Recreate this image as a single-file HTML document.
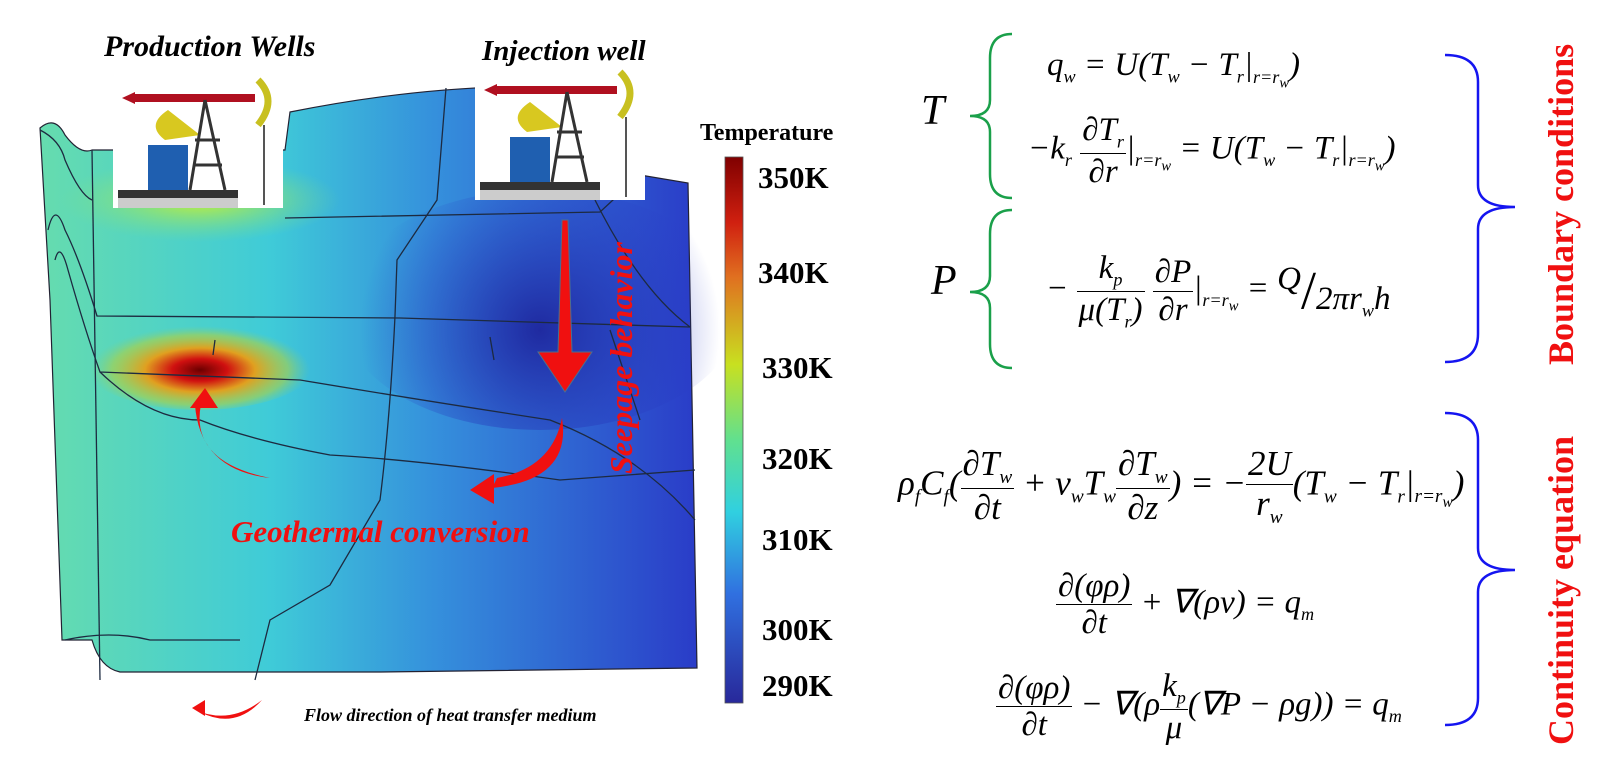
<!DOCTYPE html>
<html><head><meta charset="utf-8"><style>
body{margin:0;width:1599px;height:768px;background:#fff;position:relative;overflow:hidden;font-family:"Liberation Serif",serif}
.a{position:absolute;white-space:nowrap}
.eq{font-family:"Liberation Serif",serif;font-style:italic;font-size:33px;color:#000;line-height:1.1}
.eq sub{font-size:0.55em}
.eq sub sub{font-size:0.8em}
.lab{font-family:"Liberation Serif",serif;font-weight:bold;font-size:31px}
.frac{display:inline-block;vertical-align:middle;text-align:center}
.frac span{display:block;padding:0 2px}
.frac span.t{border-bottom:1.5px solid #000}
</style></head><body>
<svg width="1599" height="768" style="position:absolute;left:0;top:0">
<defs>
<linearGradient id="g1" x1="0" x2="1" y1="0" y2="0">
<stop offset="0" stop-color="#66dcae"/><stop offset="0.35" stop-color="#3fcbd8"/><stop offset="0.6" stop-color="#3590dc"/><stop offset="1" stop-color="#2a3cc8"/></linearGradient>
<radialGradient id="hot" cx="200" cy="370" r="110" gradientUnits="userSpaceOnUse" gradientTransform="translate(200 370) scale(1 0.4) translate(-200 -370)">
<stop offset="0" stop-color="#6b0000"/><stop offset="0.25" stop-color="#d01010"/><stop offset="0.5" stop-color="#e0a020"/><stop offset="0.8" stop-color="#b0d040" stop-opacity="0.6"/><stop offset="1" stop-color="#80d080" stop-opacity="0"/></radialGradient>
<radialGradient id="yel" cx="200" cy="200" r="140" gradientUnits="userSpaceOnUse" gradientTransform="translate(200 200) scale(1 0.3) translate(-200 -200)">
<stop offset="0" stop-color="#c8f030"/><stop offset="1" stop-color="#80e080" stop-opacity="0"/></radialGradient>
<radialGradient id="dk" cx="540" cy="330" r="180" gradientUnits="userSpaceOnUse">
<stop offset="0" stop-color="#1f2aa0"/><stop offset="1" stop-color="#2a3cc8" stop-opacity="0"/></radialGradient>
<linearGradient id="cb" x1="0" x2="0" y1="0" y2="1">
<stop offset="0" stop-color="#800000"/><stop offset="0.12" stop-color="#d02010"/><stop offset="0.22" stop-color="#e07020"/><stop offset="0.38" stop-color="#c8e020"/><stop offset="0.52" stop-color="#60e090"/><stop offset="0.65" stop-color="#30d0e0"/><stop offset="0.8" stop-color="#3070e0"/><stop offset="1" stop-color="#28289a"/></linearGradient>
</defs>
<path d="M40,128 Q55,115 65,135 Q80,155 92,150 L285,150 L290,112 Q450,80 590,88 L640,88 L640,175 L688,183 L697,668 L380,672 L120,672 Q100,668 92,640 L62,640 L50,300 Z" fill="url(#g1)" stroke="#223" stroke-width="1.2"/>
<ellipse cx="540" cy="310" rx="200" ry="120" fill="url(#dk)"/>
<ellipse cx="200" cy="200" rx="150" ry="50" fill="url(#yel)"/>
<ellipse cx="200" cy="360" rx="120" ry="50" fill="url(#hot)"/>
<g fill="none" stroke="#1d2a40" stroke-width="1.3">
<path d="M92,150 L100,680"/>
<path d="M40,130 Q60,140 65,160 Q80,195 92,200"/>
<path d="M48,230 Q55,200 65,230 Q80,260 97,316 L400,318 L690,327"/>
<path d="M55,260 Q60,240 68,270 Q85,330 100,372 L300,380 Q420,400 550,420 Q640,455 695,520"/>
<path d="M100,372 Q150,420 200,420 Q250,440 330,455 Q420,460 560,480 L695,470"/>
<path d="M395,316 Q390,420 380,500 L330,585 L270,620 L255,680"/>
<path d="M446,88 L437,200 L397,260 L395,316"/>
<path d="M285,218 L600,212 L640,175"/>
<path d="M595,200 Q640,290 690,327"/>
<path d="M65,640 Q110,630 150,640 L240,640"/>
<path d="M610,330 L640,420"/>
<path d="M215,340 L213,355 M490,337 L494,360"/>
</g>
<g>
<rect x="113" y="78" width="170" height="130" fill="#fff"/>
<rect x="135" y="94" width="120" height="8" fill="#b01020"/>
<polygon points="122,98 135,92 135,104" fill="#b01020"/>
<path d="M168,110 Q145,125 165,140 L200,135 Z" fill="#d8c820"/>
<rect x="148" y="145" width="40" height="45" fill="#1f5fb0"/>
<path d="M205,100 L190,190 M205,100 L225,190 M195,140 L220,140 M193,165 L222,165" stroke="#333" stroke-width="3"/>
<path d="M258,80 Q278,100 258,125" stroke="#c8c020" stroke-width="7" fill="none"/>
<line x1="264" y1="125" x2="264" y2="205" stroke="#555" stroke-width="2"/>
<rect x="118" y="190" width="120" height="8" fill="#333"/><rect x="118" y="198" width="120" height="10" fill="#ccc"/>
</g>
<g transform="translate(362,-8)">
<rect x="113" y="78" width="170" height="130" fill="#fff"/>
<rect x="135" y="94" width="120" height="8" fill="#b01020"/>
<polygon points="122,98 135,92 135,104" fill="#b01020"/>
<path d="M168,110 Q145,125 165,140 L200,135 Z" fill="#d8c820"/>
<rect x="148" y="145" width="40" height="45" fill="#1f5fb0"/>
<path d="M205,100 L190,190 M205,100 L225,190 M195,140 L220,140 M193,165 L222,165" stroke="#333" stroke-width="3"/>
<path d="M258,80 Q278,100 258,125" stroke="#c8c020" stroke-width="7" fill="none"/>
<line x1="264" y1="125" x2="264" y2="205" stroke="#555" stroke-width="2"/>
<rect x="118" y="190" width="120" height="8" fill="#333"/><rect x="118" y="198" width="120" height="10" fill="#ccc"/>
</g>
<polygon points="562,220 568,220 572,352 592,352 565,392 538,352 558,352" fill="#f01010" stroke="#4a7090" stroke-width="1"/>
<path d="M205,390 Q180,460 270,478 Q200,470 195,405 L210,400 Z" fill="#f01010"/>
<polygon points="190,408 205,388 218,408" fill="#f01010"/>
<path d="M562,418 Q572,480 492,488 L497,478 Q552,468 562,418 Z" fill="#f01010"/>
<polygon points="470,490 494,474 494,504" fill="#f01010"/>
<path d="M195,710 Q230,725 262,700 Q235,730 200,712 Z" fill="#f01010"/>
<polygon points="192,708 205,700 205,716" fill="#f01010"/>
<rect x="725" y="157" width="18" height="546" fill="url(#cb)" stroke="#555" stroke-width="0.8"/>
<g fill="none" stroke="#1aa04a" stroke-width="2.5">
<path d="M1012,34 Q990,34 990,58 L990,100 Q990,116 970,116 Q990,116 990,132 L990,174 Q990,198 1012,198"/>
<path d="M1012,210 Q990,210 990,234 L990,276 Q990,292 970,292 Q990,292 990,308 L990,344 Q990,368 1012,368"/>
</g>
<g fill="none" stroke="#1515f0" stroke-width="2.5">
<path d="M1445,55 Q1478,55 1478,82 L1478,185 Q1478,207 1515,207 Q1478,207 1478,229 L1478,334 Q1478,362 1445,362"/>
<path d="M1445,413 Q1478,413 1478,440 L1478,548 Q1478,570 1515,570 Q1478,570 1478,592 L1478,698 Q1478,725 1445,725"/>
</g>
</svg>
<div class="a lab" style="left:104px;top:30px;font-style:italic;font-size:30px">Production Wells</div>
<div class="a lab" style="left:482px;top:35px;font-style:italic;font-size:29px">Injection well</div>
<div class="a lab" style="left:700px;top:120px;font-size:24px">Temperature</div>
<div class="a lab" style="left:758px;top:160px">350K</div>
<div class="a lab" style="left:758px;top:255px">340K</div>
<div class="a lab" style="left:762px;top:350px">330K</div>
<div class="a lab" style="left:762px;top:441px">320K</div>
<div class="a lab" style="left:762px;top:522px">310K</div>
<div class="a lab" style="left:762px;top:612px">300K</div>
<div class="a lab" style="left:762px;top:668px">290K</div>
<div class="a lab" style="left:231px;top:514px;color:#f01010;font-style:italic;font-size:31px">Geothermal conversion</div>
<div class="a lab" style="color:#f01010;font-style:italic;transform-origin:0 0;transform:rotate(-90deg);top:474px;left:603px;font-size:32px">Seepage behavior</div>
<div class="a" style="left:304px;top:705px;font-size:18px;font-weight:bold;font-style:italic">Flow direction of heat transfer medium</div>
<div class="a lab" style="left:1540px;top:365px;color:#f01010;font-size:36px;transform-origin:0 0;transform:rotate(-90deg)">Boundary conditions</div>
<div class="a lab" style="left:1540px;top:745px;color:#f01010;font-size:36px;transform-origin:0 0;transform:rotate(-90deg)">Continuity equation</div>
<div class="a eq" style="left:921px;top:88px;font-size:42px">T</div>
<div class="a eq" style="left:931px;top:258px;font-size:42px">P</div>
<div class="a eq" style="left:1047px;top:47px">q<sub>w</sub> = U(T<sub>w</sub> − T<sub>r</sub>|<sub>r=r<sub>w</sub></sub>)</div>
<div class="a eq" style="left:1028px;top:112px">−k<sub>r</sub> <span class="frac"><span class="t">∂T<sub>r</sub></span><span>∂r</span></span>|<sub>r=r<sub>w</sub></sub> = U(T<sub>w</sub> − T<sub>r</sub>|<sub>r=r<sub>w</sub></sub>)</div>
<div class="a eq" style="left:1046px;top:250px">− <span class="frac"><span class="t">k<sub>p</sub></span><span>μ(T<sub>r</sub>)</span></span> <span class="frac"><span class="t">∂P</span><span>∂r</span></span>|<sub>r=r<sub>w</sub></sub> = <span style="position:relative;top:-10px">Q</span><span style="font-size:54px;font-style:normal;vertical-align:middle">/</span><span style="position:relative;top:10px">2πr<sub>w</sub>h</span></div>
<div class="a eq" style="left:898px;top:445px;font-size:35px">ρ<sub>f</sub>C<sub>f</sub>(<span class="frac"><span class="t">∂T<sub>w</sub></span><span>∂t</span></span> + v<sub>w</sub>T<sub>w</sub><span class="frac"><span class="t">∂T<sub>w</sub></span><span>∂z</span></span>) = −<span class="frac"><span class="t">2U</span><span>r<sub>w</sub></span></span>(T<sub>w</sub> − T<sub>r</sub>|<sub>r=r<sub>w</sub></sub>)</div>
<div class="a eq" style="left:1056px;top:568px"><span class="frac"><span class="t">∂(φρ)</span><span>∂t</span></span> + ∇(ρv) = q<sub>m</sub></div>
<div class="a eq" style="left:996px;top:668px"><span class="frac"><span class="t">∂(φρ)</span><span>∂t</span></span> − ∇(ρ<span class="frac"><span class="t">k<sub>p</sub></span><span>μ</span></span>(∇P − ρg)) = q<sub>m</sub></div>
</body></html>
